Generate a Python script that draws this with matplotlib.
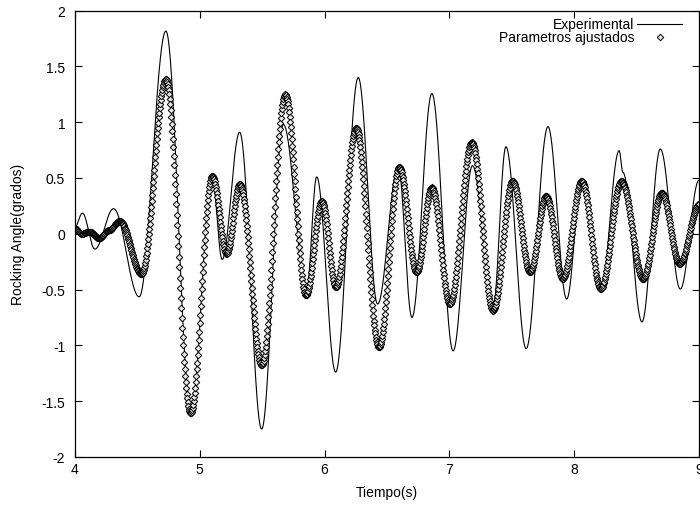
import numpy as np
import matplotlib
matplotlib.use('Agg')
import matplotlib.pyplot as plt
from matplotlib.lines import Line2D

plt.rcParams['font.family'] = ['Liberation Sans', 'DejaVu Sans']
plt.rcParams['font.size'] = 10

# turning points (time in s, angle in degrees)
exp_t = [4.00, 4.06, 4.16, 4.31, 4.515, 4.729, 4.93, 5.10, 5.18, 5.32,
         5.496, 5.67, 5.857, 5.937, 6.089, 6.27, 6.425, 6.59, 6.70, 6.86,
         7.03, 7.185, 7.35, 7.453, 7.615, 7.79, 7.94, 8.06, 8.212, 8.36,
         8.39, 8.543, 8.69, 8.85, 9.00]
exp_v = [0.06, 0.185, -0.137, 0.225, -0.565, 1.817, -1.60, 0.50, -0.23, 0.91,
         -1.75, 0.98, -0.50, 0.51, -1.24, 1.40, -0.63, 0.60, -0.75, 1.257,
         -1.05, 0.61, -0.66, 0.78, -1.03, 0.96, -0.585, 0.47, -0.52, 0.745,
         0.55, -0.79, 0.76, -0.495, 0.48]

fit_t = [4.00, 4.053, 4.12, 4.195, 4.27, 4.36, 4.534, 4.729, 4.927, 5.10,
         5.215, 5.32, 5.496, 5.684, 5.85, 5.977, 6.089, 6.252, 6.438, 6.60,
         6.738, 6.86, 7.005, 7.18, 7.35, 7.507, 7.646, 7.775, 7.908, 8.06,
         8.212, 8.377, 8.551, 8.70, 8.843, 9.00]
fit_v = [0.05, 0.0, 0.02, -0.04, 0.03, 0.115, -0.36, 1.385, -1.61, 0.52,
         -0.18, 0.445, -1.18, 1.25, -0.55, 0.295, -0.48, 0.95, -1.017, 0.60,
         -0.345, 0.415, -0.63, 0.82, -0.69, 0.475, -0.345, 0.34, -0.405, 0.475,
         -0.495, 0.475, -0.405, 0.37, -0.27, 0.266]


def wave(tk, vk, t):
    """ smooth half-cosine swing between consecutive turning points """
    tk = np.asarray(tk)
    vk = np.asarray(vk)
    i = np.clip(np.searchsorted(tk, t, side='right') - 1, 0, len(tk) - 2)
    s = (t - tk[i]) / (tk[i + 1] - tk[i])
    return vk[i] + (vk[i + 1] - vk[i]) * (1 - np.cos(np.pi * s)) / 2


t_line = np.linspace(4, 9, 3001)
t_mark = np.arange(4, 9.0001, 0.004)

fig = plt.figure(figsize=(7, 5.06), dpi=100)
ax = fig.add_axes([0.107, 0.095, 0.8916, 0.882])

ax.plot(t_line, wave(exp_t, exp_v, t_line), color='black', lw=0.8)
ax.plot(t_mark, wave(fit_t, fit_v, t_mark), ls='none', marker='D', ms=3.3,
        mfc='#e8e8e8', mec='black', mew=0.7)

ax.set_xlim(4, 9)
ax.set_ylim(-2, 2)
ax.set_xticks([4, 5, 6, 7, 8, 9])
ax.set_yticks([-2, -1.5, -1, -0.5, 0, 0.5, 1, 1.5, 2])
ax.set_yticklabels(['-2', '-1.5', '-1', '-0.5', '0', '0.5', '1', '1.5', '2'])
ax.tick_params(direction='in', length=5, width=0.8, top=True, right=True)
ax.tick_params(axis='x', pad=4)
ax.tick_params(axis='y', pad=7)
for sp in ax.spines.values():
    sp.set_linewidth(0.9)

ax.set_xlabel('Tiempo(s)', labelpad=6)
ax.set_ylabel('Rocking Angle(grados)', labelpad=12)

# gnuplot style key: right-justified text, sample on the right
ax.text(0.896, 0.970, 'Experimental', transform=ax.transAxes, ha='right', va='center')
ax.text(0.896, 0.940, 'Parametros ajustados', transform=ax.transAxes, ha='right', va='center')
ax.add_line(Line2D([0.900, 0.973], [0.970, 0.970], transform=ax.transAxes,
                   color='black', lw=0.8))
ax.add_line(Line2D([0.9375], [0.940], transform=ax.transAxes, ls='none', marker='D',
                   ms=3.3, mfc='#e8e8e8', mec='black', mew=0.7))

fig.savefig('out.png', dpi=100)
